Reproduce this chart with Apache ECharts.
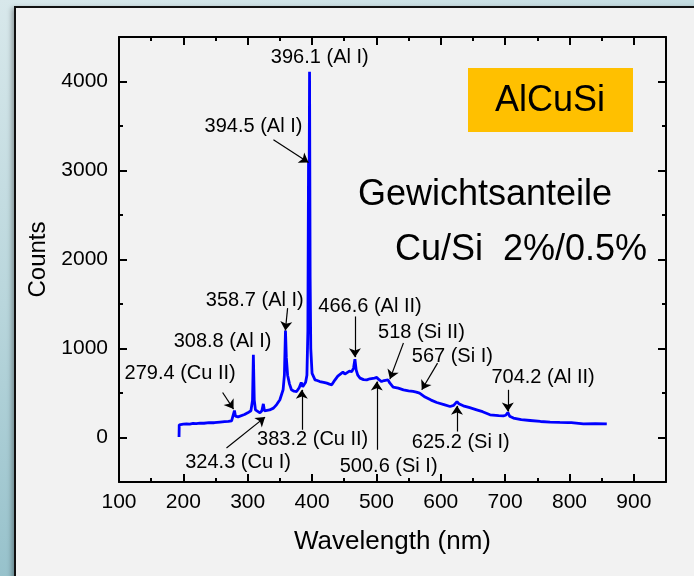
<!DOCTYPE html>
<html>
<head>
<meta charset="utf-8">
<script src="https://cdn.jsdelivr.net/npm/echarts@6/dist/echarts.min.js"></script>
<style>
  html, body { margin: 0; padding: 0; width: 694px; height: 576px; overflow: hidden; }
  body { position: relative; background: linear-gradient(165deg, #d8e8eb 0%, #b9d6dc 40%, #80b4c0 100%); }
  #panel { position: absolute; left: 14px; top: 6px; width: 720px; height: 620px; background: #f2f2f2;
           border: 2px solid #111; box-shadow: -2px 2px 5px rgba(0,0,0,0.35); }
  #chart { position: absolute; left: 0; top: 0; width: 694px; height: 576px; }
</style>
</head>
<body>
<div id="panel"></div>
<div id="chart"></div>
<script>
// spectrum (nm, counts)
const wavelength = [193.3, 193.6, 200, 205, 210, 215, 220, 226, 232, 240, 248, 257, 264, 270, 275, 277.5, 279.4, 281,
  285, 288, 295, 300, 305, 307.5, 308.8, 310.2, 312, 314, 319, 322, 324.3, 326, 328, 334, 340, 345, 350, 355, 357,
  358.7, 360, 362, 365, 368, 372, 376, 380, 383.2, 385.5, 387.5, 390, 392, 393.5, 394.5, 395.3, 396.1, 397, 398, 400,
  404.6, 408, 412, 418, 423, 427, 430.6, 435.7, 440, 443, 448, 451, 454, 458, 461.7, 464.5, 466.6, 468.5, 471, 474.6,
  480, 485, 490, 493, 497, 500.6, 504, 508, 512, 515, 518, 521, 526, 534, 542, 550, 557, 562, 567, 569, 575.6, 585,
  593.8, 605, 614.5, 620, 625.2, 628, 635, 645, 655.8, 665, 676.6, 690, 697.3, 701, 704.2, 707, 712.9, 725, 738.8,
  755, 769.9, 785, 798, 801, 803, 821.6, 840, 858];
const counts = [5, 143, 150, 154, 151, 158, 156, 162, 160, 168, 166, 173, 178, 182, 188, 200, 303, 240,
  232, 232, 258, 277, 300, 420, 929, 420, 310, 292, 277, 300, 378, 300, 292, 310, 330, 370, 424, 536, 700,
  1202, 900, 700, 600, 536, 520, 517, 560, 618, 570, 558, 620, 700, 1200, 3090, 2500, 4110, 1800, 1000, 720,
  648, 640, 629, 620, 611, 600, 592, 648, 690, 704, 735, 712, 723, 745, 741, 780, 880, 760, 700, 667,
  650, 648, 660, 656, 668, 675, 650, 629, 640, 625, 648, 610, 566, 555, 536, 525, 517, 510, 499, 480, 454, 420,
  393, 370, 348, 360, 404, 380, 356, 335, 311, 290, 255, 245, 244, 250, 281, 240, 218, 200, 191,
  180, 173, 170, 168, 190, 168, 154, 155, 152];

// line annotations: text, where the text sits, arrow start and arrow tip (data units)
const noteText = ['396.1 (Al I)', '394.5 (Al I)', '358.7 (Al I)', '308.8 (Al I)', '279.4 (Cu II)', '324.3 (Cu I)',
  '383.2 (Cu II)', '466.6 (Al II)', '518 (Si II)', '500.6 (Si I)', '567 (Si I)', '625.2 (Si I)', '704.2 (Al II)'];
const noteAt = [[412, 4266], [309, 3494], [311, 1539], [261, 1079], [195, 716], [285, -281], [401, -26],
  [490, 1472], [570, 1180], [519, -326], [618, 910], [631, -56], [759, 679]];
const noteFrom = [null, [340, 3345], [362, 1454], null, [261, 506], [267, -119], [384.5, 87], [466.6, 1360],
  [542, 1061], [500.6, -138], [595, 836], [625.2, 67], [704.2, 536]];
const noteTip = [null, [394.5, 3090], [358.5, 1202], null, [278, 319], [327, 229], [384, 536], [466.6, 903],
  [521, 656], [500.6, 629], [570.5, 536], [625.2, 356], [704.2, 292]];

const xMajor = [100, 200, 300, 400, 500, 600, 700, 800, 900];
const xMinor = [150, 250, 350, 450, 550, 650, 750, 850];
const yMajor = [0, 1000, 2000, 3000, 4000];
const yMinor = [500, 1500, 2500, 3500];

const FONT = '"Liberation Sans", Arial, sans-serif';
const INK = '#000';

const chart = echarts.init(document.getElementById('chart'), null, { renderer: 'canvas' });

function xAx(grid, pos, ticks, len, main) {
  return {
    type: 'value', gridIndex: grid, position: pos, min: 100, max: 950,
    axisLine: { show: main, onZero: false, lineStyle: { color: INK, width: 2 } },
    axisTick: { show: true, inside: true, length: len, customValues: ticks, lineStyle: { color: INK, width: 2 } },
    axisLabel: { show: false },
    splitLine: { show: false }
  };
}
function yAx(grid, pos, ticks, len, main) {
  return {
    type: 'value', gridIndex: grid, position: pos, min: -500, max: 4500,
    axisLine: { show: main, onZero: false, lineStyle: { color: INK, width: 2 } },
    axisTick: { show: true, inside: true, length: len, customValues: ticks, lineStyle: { color: INK, width: 2 } },
    axisLabel: { show: false },
    splitLine: { show: false }
  };
}

const xBottom = xAx(0, 'bottom', xMajor, 8, true);
xBottom.axisLabel = { show: true, customValues: xMajor, formatter: v => String(v),
  fontFamily: FONT, fontSize: 21, color: INK, margin: 10 };
xBottom.name = 'Wavelength (nm)';
xBottom.nameLocation = 'middle';
xBottom.nameGap = 47;
xBottom.nameTextStyle = { fontFamily: FONT, fontSize: 26, color: INK };

const yLeft = yAx(0, 'left', yMajor, 8, true);
yLeft.axisLabel = { show: true, customValues: yMajor, formatter: v => String(v),
  fontFamily: FONT, fontSize: 21, color: INK, margin: 11 };
yLeft.name = 'Counts';
yLeft.nameLocation = 'middle';
yLeft.nameGap = 64;
yLeft.nameTextStyle = { fontFamily: FONT, fontSize: 24, color: INK };

const arrows = [];
noteText.forEach((t, i) => {
  if (noteFrom[i]) arrows.push([{ coord: noteFrom[i] }, { coord: noteTip[i] }]);
});

chart.setOption({
  animation: false,
  backgroundColor: 'transparent',
  grid: [
    { left: 119, right: 28, top: 37, bottom: 94, containLabel: false },
    { left: 119, right: 28, top: 37, bottom: 94, containLabel: false }
  ],
  xAxis: [
    xBottom,
    xAx(0, 'top', xMajor, 8, true),
    xAx(1, 'bottom', xMinor, 4, false),
    xAx(1, 'top', xMinor, 4, false)
  ],
  yAxis: [
    yLeft,
    yAx(0, 'right', yMajor, 8, true),
    yAx(1, 'left', yMinor, 4, false),
    yAx(1, 'right', yMinor, 4, false)
  ],
  graphic: [
    {
      type: 'group', left: 468, top: 68,
      children: [
        { type: 'rect', shape: { x: 0, y: 0, width: 165, height: 64 }, style: { fill: '#ffc000' } },
        { type: 'text', x: 82, y: 33, style: { text: 'AlCuSi', font: '36px ' + FONT, fill: INK, align: 'center', verticalAlign: 'middle' } }
      ]
    },
    { type: 'text', x: 485, y: 195, style: { text: 'Gewichtsanteile', font: '36px ' + FONT, fill: INK, align: 'center', verticalAlign: 'middle' } },
    { type: 'text', x: 521, y: 250, style: { text: 'Cu/Si  2%/0.5%', font: '36px ' + FONT, fill: INK, align: 'center', verticalAlign: 'middle' } }
  ],
  series: [
    {
      name: 'AlCuSi',
      type: 'line',
      xAxisIndex: 0,
      yAxisIndex: 0,
      data: wavelength.map((w, i) => [w, counts[i]]),
      showSymbol: false,
      smooth: false,
      lineStyle: { color: '#0000ff', width: 2.8 },
      markLine: {
        silent: true,
        symbol: ['none', 'arrow'],
        symbolSize: 9,
        label: { show: false },
        lineStyle: { color: INK, width: 1.2, type: 'solid' },
        emphasis: { disabled: true },
        data: arrows
      },
      z: 3
    },
    {
      name: 'notes',
      type: 'scatter',
      xAxisIndex: 0,
      yAxisIndex: 0,
      symbolSize: 0,
      data: noteText.map((t, i) => ({ name: t, value: noteAt[i] })),
      label: {
        show: true, position: 'inside', formatter: '{b}',
        fontFamily: FONT, fontSize: 20, color: INK, opacity: 1, textBorderWidth: 0
      },
      emphasis: { disabled: true },
      z: 4
    }
  ]
});
</script>
</body>
</html>
